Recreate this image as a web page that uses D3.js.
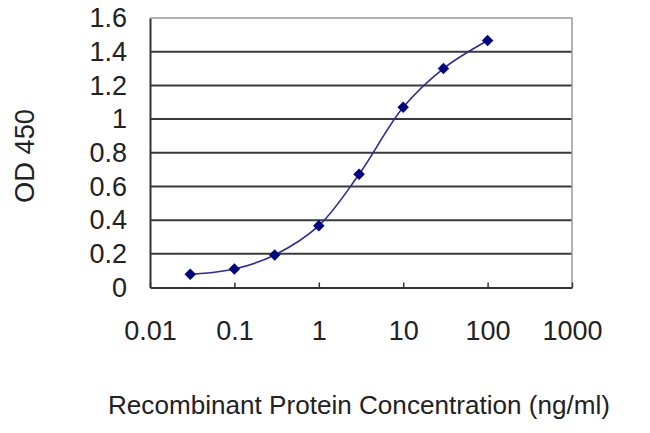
<!DOCTYPE html>
<html><head><meta charset="utf-8">
<script src="https://cdn.jsdelivr.net/npm/d3@7"></script>
<style>body{margin:0;background:#fff;} svg{display:block;} text{font-family:"Liberation Sans",Arial,sans-serif;fill:#222;}</style>
</head><body>
<svg id="c" width="650" height="433"></svg>
<script>
const concentrations = [0.03, 0.1, 0.3, 1, 3, 10, 30, 100];
const od450 = [0.078, 0.11, 0.193, 0.367, 0.672, 1.07, 1.30, 1.466];
const xTicks = [0.01, 0.1, 1, 10, 100, 1000];
const xTickLabels = ["0.01", "0.1", "1", "10", "100", "1000"];
const yTicks = [0, 0.2, 0.4, 0.6, 0.8, 1, 1.2, 1.4, 1.6];
const yTickLabels = ["0", "0.2", "0.4", "0.6", "0.8", "1", "1.2", "1.4", "1.6"];

const svg = d3.select("#c");
const L = 150, R = 572, T = 18, B = 287.5;
const x = d3.scaleLog().domain([0.01, 1000]).range([L, R]);
const y = d3.scaleLinear().domain([0, 1.6]).range([B, T]);

// gridlines
svg.append("g").selectAll("line").data(yTicks.filter(v => v > 0 && v < 1.6)).join("line")
  .attr("x1", L).attr("x2", R).attr("y1", d => y(d)).attr("y2", d => y(d))
  .attr("stroke", "#3a3a3a").attr("stroke-width", 2);
// top & right border
svg.append("path").attr("d", `M${L},${T}H${R}V${B}`).attr("fill", "none")
  .attr("stroke", "#9a9a9a").attr("stroke-width", 1.5);

// x axis
const xAxis = d3.axisBottom(x).tickValues(xTicks).tickSizeInner(-5).tickSizeOuter(0).tickFormat((d, i) => xTickLabels[i]);
const gx = svg.append("g").attr("transform", `translate(0,${B})`).call(xAxis);
gx.select(".domain").attr("stroke", "#333").attr("stroke-width", 2);
gx.selectAll(".tick line").attr("stroke", "#333").attr("stroke-width", 1.5);
gx.selectAll(".tick text").attr("font-size", 27).attr("dy", 0).attr("y", 52).attr("fill", "#222")
  .attr("font-family", '"Liberation Sans",Arial,sans-serif');

// y axis
const yAxis = d3.axisLeft(y).tickValues(yTicks).tickSize(0).tickPadding(23).tickFormat((d, i) => yTickLabels[i]);
const gy = svg.append("g").attr("transform", `translate(${L},0)`).call(yAxis);
gy.select(".domain").attr("stroke", "#333").attr("stroke-width", 2);
gy.selectAll(".tick text").attr("font-size", 27).attr("fill", "#222")
  .attr("font-family", '"Liberation Sans",Arial,sans-serif');

// line
const pts = concentrations.map((c, i) => [c, od450[i]]);
svg.append("path").datum(pts)
  .attr("d", d3.line().x(d => x(d[0])).y(d => y(d[1])).curve(d3.curveCatmullRom))
  .attr("fill", "none").attr("stroke", "#2b2ba0").attr("stroke-width", 1.6);
// markers
svg.append("g").selectAll("path").data(pts).join("path")
  .attr("d", d3.symbol(d3.symbolSquare, 66))
  .attr("transform", d => `translate(${x(d[0])},${y(d[1])}) rotate(45)`)
  .attr("fill", "#000080");

// titles
svg.append("text").attr("x", 359).attr("y", 414).attr("text-anchor", "middle")
  .attr("font-size", 26).attr("textLength", 502).attr("lengthAdjust", "spacingAndGlyphs")
  .text("Recombinant Protein Concentration (ng/ml)");
svg.append("text").attr("transform", "translate(34,156) rotate(-90)").attr("text-anchor", "middle")
  .attr("font-size", 27).attr("textLength", 94).attr("lengthAdjust", "spacingAndGlyphs").text("OD 450");
</script>
</body></html>
